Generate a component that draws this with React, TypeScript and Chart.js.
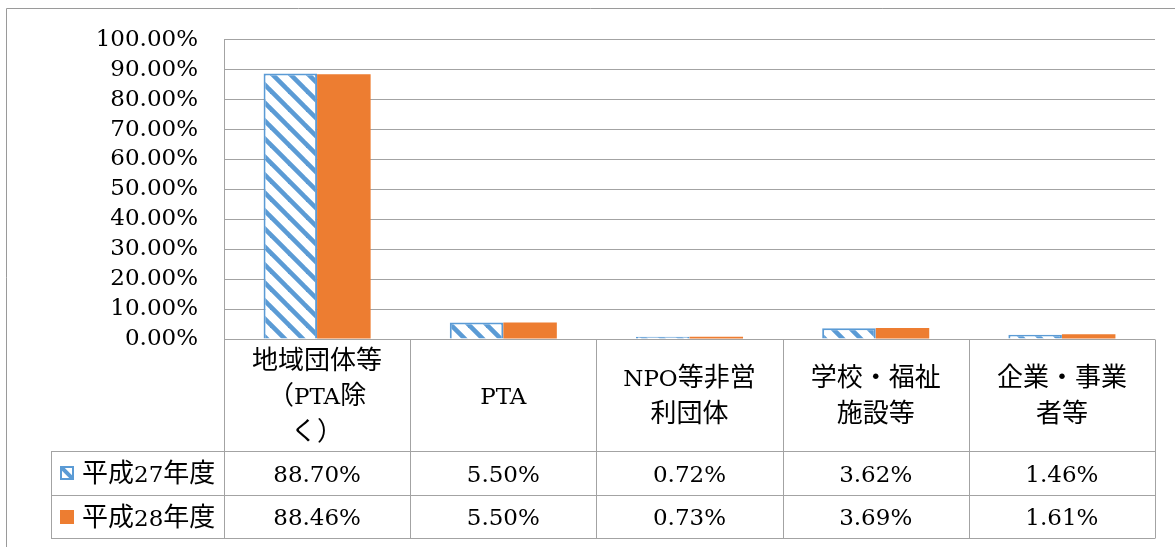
import React, { useEffect, useRef } from 'react';
import { Chart, registerables } from 'chart.js';

Chart.register(...registerables);

// ---- data ----
const categories: string[][] = [
  ['地域団体等', '（PTA除', 'く）'],
  ['PTA'],
  ['NPO等非営', '利団体'],
  ['学校・福祉', '施設等'],
  ['企業・事業', '者等'],
];
const seriesNames = ['平成27年度', '平成28年度'];
const h27 = [88.7, 5.5, 0.72, 3.62, 1.46];
const h28 = [88.46, 5.5, 0.73, 3.69, 1.61];
const yMin = 0;
const yMax = 100;
const yStep = 10;

// ---- styles ----
const BLUE = '#5B9BD5';
const ORANGE = '#ED7D31';
const GRID = '#a3a3a3';
const LATIN_FONT = '23px "DejaVu Serif"';
const CJK_FONT = '26px "Noto Sans CJK JP"';
const CJK_RE = /[\u3000-\u30ff\u3400-\u9fff\uff00-\uffef]/;

function makeHatch(ctx: CanvasRenderingContext2D): CanvasPattern | string {
  const s = 18;
  const c = document.createElement('canvas');
  c.width = s;
  c.height = s;
  const g = c.getContext('2d')!;
  g.fillStyle = '#ffffff';
  g.fillRect(0, 0, s, s);
  g.strokeStyle = BLUE;
  g.lineWidth = 4.6;
  for (const o of [-s, 0, s]) {
    g.beginPath();
    g.moveTo(o - 3, -3);
    g.lineTo(o + s + 3, s + 3);
    g.stroke();
  }
  return ctx.createPattern(c, 'repeat') || BLUE;
}

function splitRuns(s: string): [string, boolean][] {
  const out: [string, boolean][] = [];
  let cur = '';
  let curC: boolean | null = null;
  for (const ch of s) {
    const c = CJK_RE.test(ch);
    if (curC === null || c === curC) cur += ch;
    else {
      out.push([cur, curC]);
      cur = ch;
    }
    curC = c;
  }
  if (cur) out.push([cur, !!curC]);
  return out;
}

function drawMixed(ctx: CanvasRenderingContext2D, s: string, x: number, baseline: number, align: 'left' | 'center') {
  const runs = splitRuns(s);
  const widths = runs.map(([t, c]) => {
    ctx.font = c ? CJK_FONT : LATIN_FONT;
    return ctx.measureText(t).width;
  });
  const total = widths.reduce((a, b) => a + b, 0);
  let px = align === 'center' ? x - total / 2 : x;
  ctx.textAlign = 'left';
  ctx.textBaseline = 'alphabetic';
  ctx.fillStyle = '#000';
  runs.forEach(([t, c], i) => {
    ctx.font = c ? CJK_FONT : LATIN_FONT;
    ctx.fillText(t, px, baseline);
    px += widths[i];
  });
}

const fmt = (v: number) => v.toFixed(2) + '%';

export default function App() {
  const ref = useRef<HTMLCanvasElement>(null);

  useEffect(() => {
    document.body.style.margin = '0';
    const canvas = ref.current!;
    const ctx0 = canvas.getContext('2d')!;
    const hatch = makeHatch(ctx0);

    const rowHeights = [112, 44, 43];
    const legendLeft = 51;
    const lineH = 35.5;

    const framePlugin = {
      id: 'frame',
      beforeDraw(chart: any) {
        const ctx = chart.ctx as CanvasRenderingContext2D;
        ctx.save();
        ctx.strokeStyle = '#9a9a9a';
        ctx.lineWidth = 1;
        ctx.beginPath();
        ctx.moveTo(6.5, 547);
        ctx.lineTo(6.5, 8.5);
        ctx.lineTo(1175, 8.5);
        ctx.stroke();
        ctx.restore();
      },
    };

    const tablePlugin = {
      id: 'dataTable',
      afterDraw(chart: any) {
        const ctx = chart.ctx as CanvasRenderingContext2D;
        const ca = chart.chartArea;
        const xs = chart.scales.x;
        const n = categories.length;
        const cw = ca.width / n;
        const r0 = ca.bottom;
        const r1 = r0 + rowHeights[0];
        const r2 = r1 + rowHeights[1];
        const r3 = r2 + rowHeights[2];
        const al = (v: number) => Math.round(v) + 0.5;

        ctx.save();
        ctx.strokeStyle = GRID;
        ctx.lineWidth = 1;
        ctx.beginPath();
        for (const y of [r1, r2, r3]) {
          ctx.moveTo(legendLeft, al(y));
          ctx.lineTo(ca.right, al(y));
        }
        ctx.moveTo(al(legendLeft), al(r1));
        ctx.lineTo(al(legendLeft), al(r3));
        for (let i = 0; i <= n; i++) {
          const x = al(ca.left + i * cw);
          ctx.moveTo(x, al(r0));
          ctx.lineTo(x, al(r3));
        }
        ctx.stroke();

        // category labels
        const cMid = (r0 + r1) / 2;
        categories.forEach((lines, i) => {
          const cx = xs.getPixelForValue(i);
          lines.forEach((ln, k) => {
            const cy = cMid + (k - (lines.length - 1) / 2) * lineH;
            drawMixed(ctx, ln, cx, cy + 9, 'center');
          });
        });

        // rows
        const rows = [
          { top: r1, bottom: r2, data: h27, name: seriesNames[0], hatched: true },
          { top: r2, bottom: r3, data: h28, name: seriesNames[1], hatched: false },
        ];
        rows.forEach((row) => {
          const cy = (row.top + row.bottom) / 2;
          const ix = 60;
          const iy = Math.round(cy - 7);
          if (row.hatched) {
            ctx.fillStyle = '#fff';
            ctx.fillRect(ix, iy, 14, 14);
            ctx.save();
            ctx.beginPath();
            ctx.rect(ix, iy, 14, 14);
            ctx.clip();
            ctx.strokeStyle = BLUE;
            ctx.lineWidth = 4;
            ctx.beginPath();
            ctx.moveTo(ix, iy);
            ctx.lineTo(ix + 14, iy + 14);
            ctx.stroke();
            ctx.restore();
            ctx.strokeStyle = BLUE;
            ctx.lineWidth = 2;
            ctx.strokeRect(ix + 1, iy + 1, 12, 12);
          } else {
            ctx.fillStyle = ORANGE;
            ctx.fillRect(ix, iy, 14, 14);
          }
          drawMixed(ctx, row.name, 82, cy + 9, 'left');
          row.data.forEach((v, i) => {
            const cx = xs.getPixelForValue(i);
            drawMixed(ctx, fmt(v), cx, cy + 8.5, 'center');
          });
        });
        ctx.restore();
      },
    };

    const chart = new Chart(canvas, {
      type: 'bar',
      data: {
        labels: categories.map((c) => c.join('')),
        datasets: [
          {
            label: seriesNames[0],
            data: h27,
            backgroundColor: hatch as any,
            borderColor: BLUE,
            borderWidth: 2,
            categoryPercentage: 0.575,
            barPercentage: 1,
          },
          {
            label: seriesNames[1],
            data: h28,
            backgroundColor: ORANGE,
            borderWidth: 0,
            categoryPercentage: 0.575,
            barPercentage: 1,
          },
        ],
      },
      options: {
        responsive: false,
        animation: false,
        layout: { padding: { left: 0, top: 38, right: 20, bottom: 208 } },
        plugins: {
          legend: { display: false },
          tooltip: { enabled: false },
        },
        scales: {
          x: { display: false },
          y: {
            min: yMin,
            max: yMax,
            afterFit(scale: any) {
              scale.width = 224;
            },
            ticks: {
              stepSize: yStep,
              autoSkip: false,
              padding: 26,
              color: '#000',
              font: { family: 'DejaVu Serif', size: 23 },
              callback: (v: any) => Number(v).toFixed(2) + '%',
            },
            grid: { color: GRID, drawTicks: false },
            border: { display: true, color: GRID },
          },
        },
      },
      plugins: [framePlugin, tablePlugin],
    });

    return () => chart.destroy();
  }, []);

  return <canvas ref={ref} width={1175} height={547} style={{ display: 'block' }} />;
}
